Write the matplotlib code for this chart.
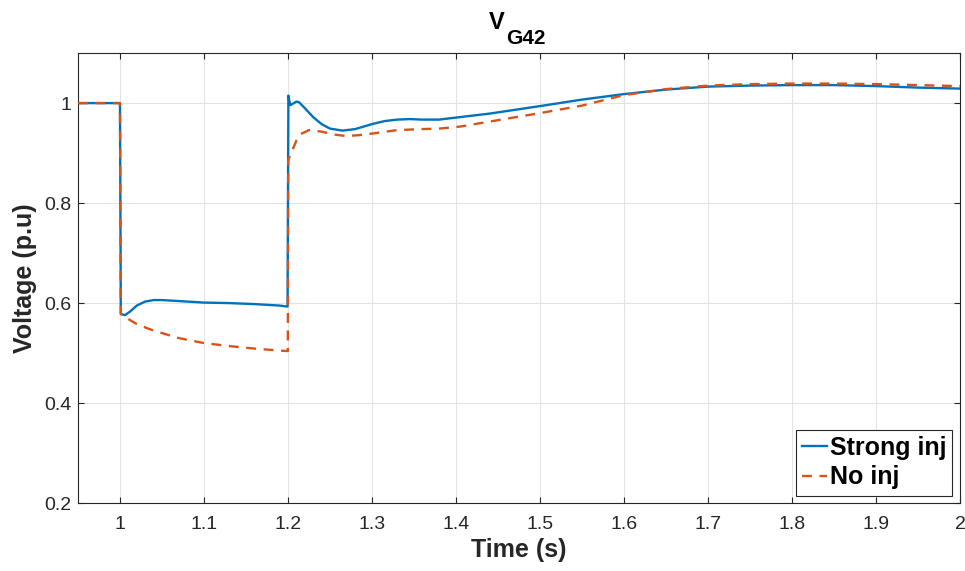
import matplotlib

matplotlib.use("Agg")
import matplotlib.pyplot as plt


# bus voltage at G42, with and without the strong current injection
t_strong = [0.95, 1.0, 1.001, 1.003, 1.006, 1.012, 1.02, 1.03, 1.04, 1.05, 1.07,
            1.1, 1.13, 1.16, 1.19, 1.1995, 1.2, 1.2005, 1.2015, 1.203, 1.206,
            1.21, 1.213, 1.22, 1.23, 1.24, 1.25, 1.265, 1.28, 1.3, 1.315, 1.33,
            1.345, 1.36, 1.38, 1.4, 1.44, 1.5, 1.55, 1.6, 1.65, 1.7, 1.75, 1.8, 1.85,
            1.9, 1.95, 2.0]
v_strong = [1.0, 1.0, 0.579, 0.577, 0.576, 0.583, 0.595, 0.603, 0.606, 0.606, 0.604,
            0.601, 0.600, 0.598, 0.595, 0.593, 0.800, 1.015, 1.005, 0.996, 0.999,
            1.003, 1.002, 0.990, 0.972, 0.958, 0.949, 0.945, 0.948, 0.958, 0.964, 0.967,
            0.968, 0.967, 0.967, 0.971, 0.979, 0.994, 1.007, 1.018, 1.027, 1.033, 1.035, 1.036, 1.036,
            1.034, 1.031, 1.029]

t_none = [0.95, 1.0, 1.001, 1.003, 1.01, 1.02, 1.035, 1.05, 1.07, 1.1, 1.13, 1.16,
          1.19, 1.1998, 1.2003, 1.205, 1.21, 1.215, 1.225, 1.24, 1.255, 1.27,
          1.285, 1.3, 1.33, 1.36, 1.38, 1.405, 1.44, 1.5, 1.55, 1.6, 1.65, 1.7,
          1.75, 1.8, 1.85, 1.9, 1.95, 2.0]
v_none = [1.0, 1.0, 0.578, 0.577, 0.568, 0.558, 0.548, 0.540, 0.530, 0.520, 0.514, 0.509,
          0.505, 0.504, 0.886, 0.905, 0.925, 0.938, 0.946, 0.943, 0.937, 0.934,
          0.936, 0.939, 0.946, 0.948, 0.949, 0.953, 0.963, 0.980, 0.995, 1.016, 1.028, 1.035,
          1.038, 1.039, 1.039, 1.038, 1.036, 1.034]

x_ticks = [1, 1.1, 1.2, 1.3, 1.4, 1.5, 1.6, 1.7, 1.8, 1.9, 2]
x_labels = ["1", "1.1", "1.2", "1.3", "1.4", "1.5", "1.6", "1.7", "1.8", "1.9", "2"]
y_ticks = [0.2, 0.4, 0.6, 0.8, 1.0]
y_labels = ["0.2", "0.4", "0.6", "0.8", "1"]

plt.rcParams["font.family"] = ["Liberation Sans", "DejaVu Sans"]

BLUE = "#0072BD"
ORANGE = "#D95319"
AXC = "#262626"

fig = plt.figure(figsize=(9.65, 5.71), dpi=100)
ax = fig.add_axes([0.0808, 0.119, 0.914, 0.788])

ax.plot(t_strong, v_strong, color=BLUE, linewidth=1.7, label="Strong inj", zorder=3)
ax.plot(t_none, v_none, color=ORANGE, linewidth=1.7, linestyle=(0, (4.2, 3.2)),
        label="No inj", zorder=4)

ax.set_xlim(0.95, 2.0)
ax.set_ylim(0.2, 1.1)
ax.set_xticks(x_ticks, x_labels)
ax.set_yticks(y_ticks, y_labels)
ax.tick_params(direction="in", length=4, width=0.8, colors=AXC, labelsize=14,
               top=True, right=True)
ax.tick_params(axis="x", pad=9)
ax.tick_params(axis="y", pad=5)
for sp in ax.spines.values():
    sp.set_color(AXC)
    sp.set_linewidth(0.8)
ax.grid(True, color="#e3e3e3", linewidth=0.8)
ax.set_axisbelow(True)

ax.set_xlabel("Time (s)", fontsize=18, fontweight="bold", color=AXC, labelpad=4)
ax.set_ylabel("Voltage (p.u)", fontsize=18, fontweight="bold", color=AXC, labelpad=5)

# title V_G42, subscript nearly as large as the main letter
fig.text(489 / 965, 1 - 29 / 571, "V", fontsize=17, fontweight="bold",
         ha="left", va="baseline")
fig.text(506 / 965, 1 - 44 / 571, "G42", fontsize=15, fontweight="bold",
         ha="left", va="baseline")

leg = ax.legend(loc="lower right", fontsize=18, handlelength=1.0, handletextpad=0.1,
                borderpad=0.25, labelspacing=0.22, borderaxespad=0.3, fancybox=False,
                framealpha=1.0, edgecolor=AXC)
leg.get_frame().set_linewidth(0.8)
for txt in leg.get_texts():
    txt.set_fontweight("bold")

fig.savefig("out.png", dpi=100)
plt.close(fig)
